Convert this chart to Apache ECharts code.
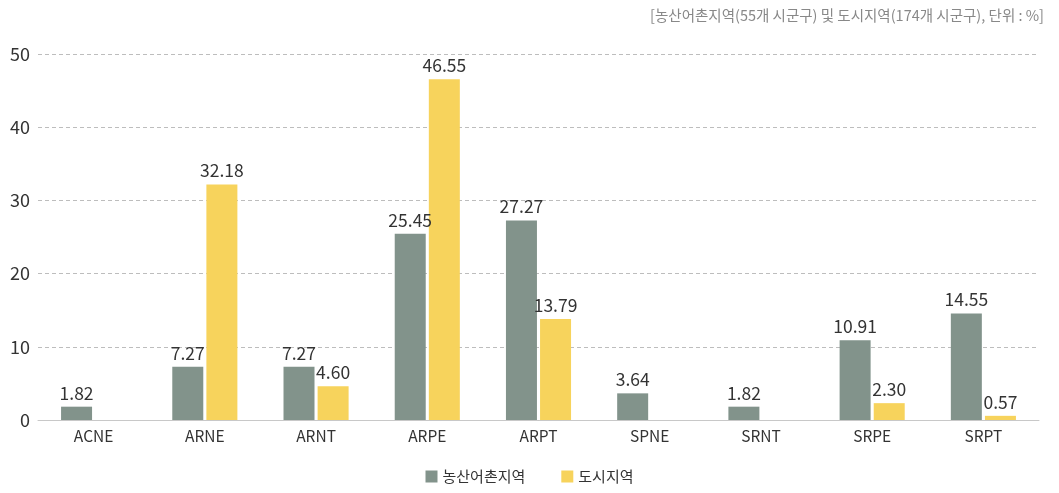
<!DOCTYPE html>
<html><head><meta charset="utf-8">
<script src="https://cdn.jsdelivr.net/npm/echarts@6/dist/echarts.min.js"></script>
<style>html,body{margin:0;padding:0;background:#fff}#c{width:1059px;height:493px}</style>
</head><body><div id="c"></div>
<script>
const categories = ['ACNE','ARNE','ARNT','ARPE','ARPT','SPNE','SRNT','SRPE','SRPT'];
const rural = [1.82, 7.27, 7.27, 25.45, 27.27, 3.64, 1.82, 10.91, 14.55];
const urban = [null, 32.18, 4.60, 46.55, 13.79, null, null, 2.30, 0.57];
const seriesNames = ['농산어촌지역', '도시지역'];
const note = '[농산어촌지역(55개 시군구) 및 도시지역(174개 시군구), 단위 : %]';
const font = '"Noto Sans CJK KR", "Noto Sans", sans-serif';
const chart = echarts.init(document.getElementById('c'), null, {renderer:'canvas'});
const lbl = {show:true, position:'top', distance:5, color:'#333', fontSize:17.5, fontFamily:font,
  formatter: p => p.value == null ? '' : Number(p.value).toFixed(2)};
chart.setOption({
  animation:false,
  textStyle:{fontFamily:font},
  title:{text:note, right:10, top:3, textStyle:{fontSize:14.5, fontWeight:'normal', color:'#888', fontFamily:font}},
  grid:{left:38, right:20, top:54, bottom:73},
  legend:{bottom:4, left:'center', itemWidth:12, itemHeight:12, itemGap:36, icon:'rect',
    textStyle:{fontSize:15, color:'#333', fontFamily:font}},
  xAxis:{type:'category', data:categories,
    axisLine:{lineStyle:{color:'#c8c8c8', width:1}}, axisTick:{show:false},
    axisLabel:{color:'#333', fontSize:15.5, margin:8, fontFamily:font}},
  yAxis:{type:'value', min:0, max:50, interval:10,
    axisLine:{show:false}, axisTick:{show:false},
    splitLine:{lineStyle:{type:[4,3], color:'#bdbdbd'}},
    axisLabel:{color:'#333', fontSize:18, margin:8, fontFamily:font}},
  series:[
    {name:seriesNames[0], type:'bar', data:rural, barWidth:31, barGap:'10%', itemStyle:{color:'#82938b'}, label:lbl},
    {name:seriesNames[1], type:'bar', data:urban, barWidth:31, itemStyle:{color:'#f7d35c'}, label:lbl}
  ]
});
</script></body></html>
